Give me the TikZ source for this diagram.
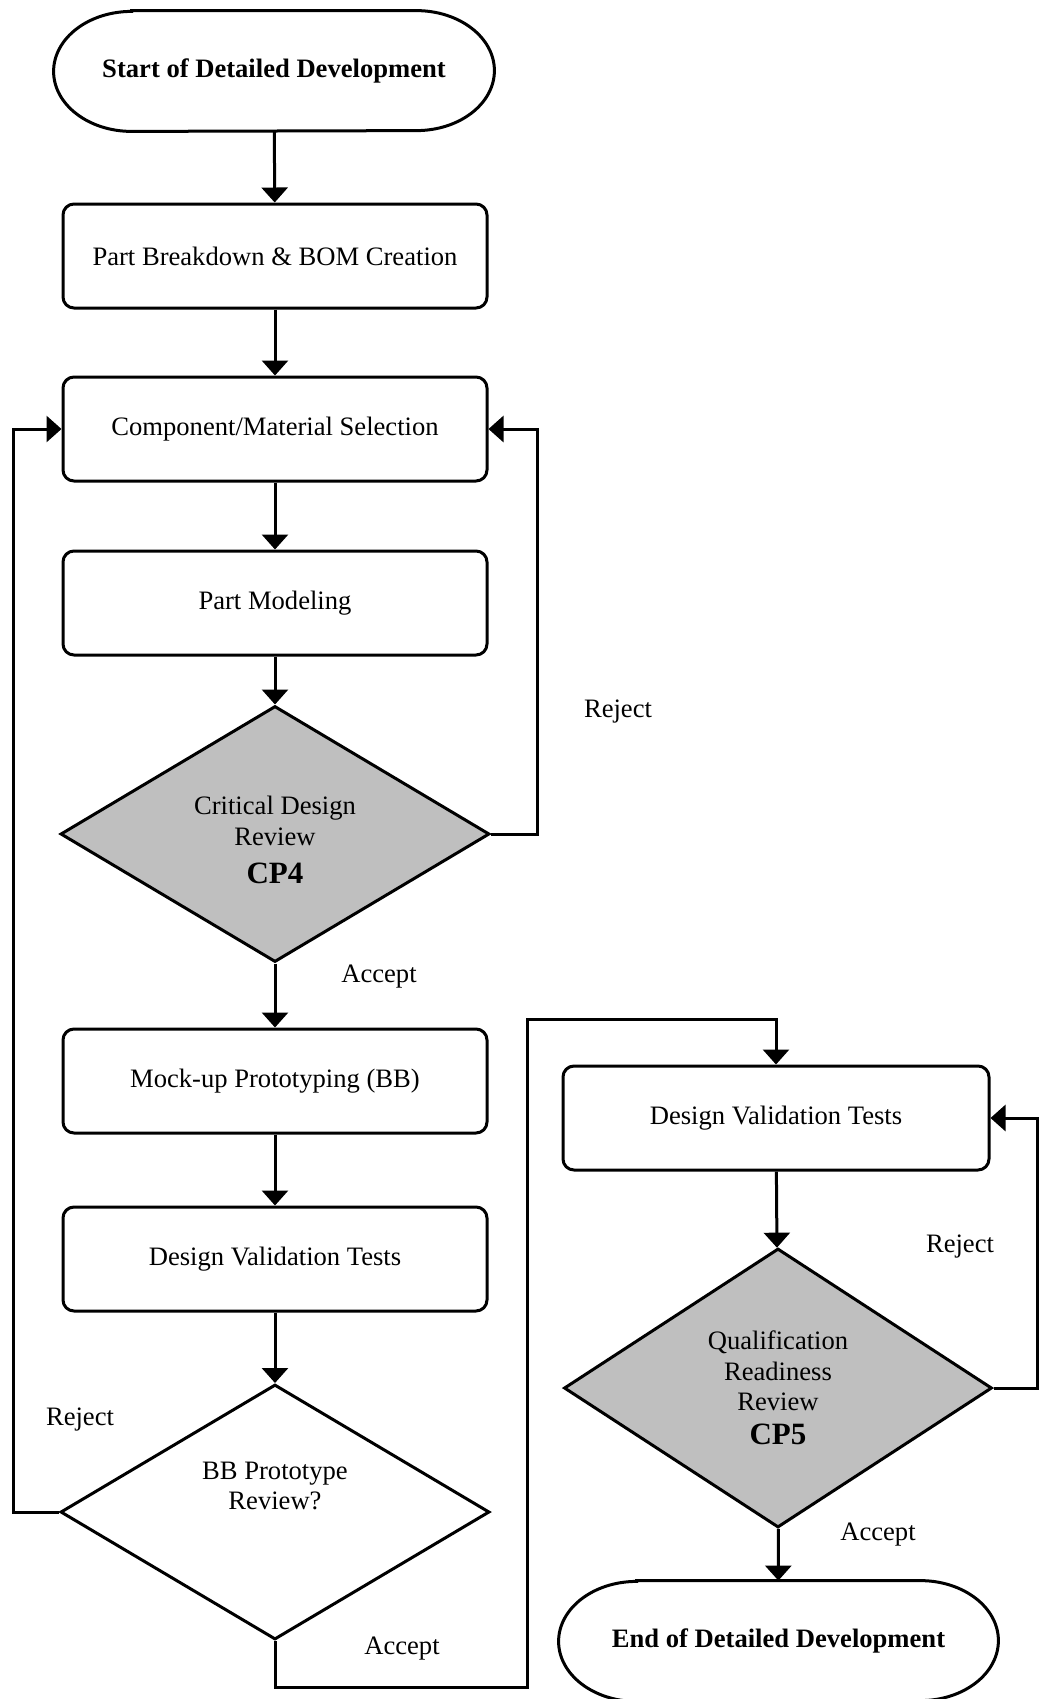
\documentclass[tikz,border=0pt]{standalone}
\usepackage{fontspec}
\setmainfont{Liberation Serif}
\usetikzlibrary{arrows.meta,shapes.geometric}
% outline of a terminal (stadium with elliptic ends) around a named node
\newcommand\termoutline[1]{%
  \draw[line width=1.5pt] ([xshift=39pt]#1.north west) -- ([xshift=-39pt]#1.north east)
    arc[start angle=90,end angle=-90,x radius=39pt,y radius=30pt]
    -- ([xshift=39pt]#1.south west)
    arc[start angle=270,end angle=90,x radius=39pt,y radius=30pt] -- cycle;}
\begin{document}
\begin{tikzpicture}[x=0.5pt,y=-0.5pt,
  every node/.style={font=\fontsize{13.3}{15.2}\selectfont, inner sep=0pt},
  terminal/.style={minimum width=220pt, minimum height=60pt, font=\fontsize{13.3}{15.2}\selectfont\bfseries},
  procbox/.style={draw, rectangle, rounded corners=5.5pt, line width=1.5pt,
    minimum width=212pt, minimum height=52pt, align=center},
  decision/.style={draw, diamond, line width=1.5pt, align=center, fill=#1},
  decision/.default=white,
  flow/.style={line width=1.5pt, -{Triangle[width=13pt,length=7.5pt]}},
  plain/.style={line width=1.5pt}
]
\useasboundingbox (0,0) rectangle (1040,1699);

% left column
\node[terminal] (start) at (274,71) {Start of Detailed Development};
\termoutline{start}
\node[procbox] (pb) at (275,256) {Part Breakdown \& BOM Creation};
\node[procbox] (comp) at (275,429) {Component/Material Selection};
\node[procbox] (pm) at (275,603) {Part Modeling};
\node[decision=black!25, minimum width=214.5pt, minimum height=128pt] (cp4) at (275,834) {};
\node[align=center] (cp4text) at (275,840)
  {Critical Design\\Review\\[4pt]{\fontsize{15.5}{17}\selectfont\bfseries CP4}};
\node[procbox] (mock) at (275,1081) {Mock-up Prototyping (BB)};
\node[procbox] (dvt1) at (275,1259) {Design Validation Tests};
\node[decision, minimum width=214.5pt, minimum height=127.5pt] (bb) at (275,1512) {};
\node[align=center] (bbtext) at (275,1486) {BB Prototype\\Review?};

% right column
\node[procbox, minimum width=213pt] (dvt2) at (776,1118) {Design Validation Tests};
\node[decision=black!25, minimum width=214pt, minimum height=139.5pt] (cp5) at (778,1388)
  {Qualification\\Readiness\\Review\\[2pt]{\fontsize{15.5}{17}\selectfont\bfseries CP5}};
\node[terminal, minimum width=219.5pt] (end) at (778.5,1641) {End of Detailed Development};
\termoutline{end}

% main flow
\draw[flow] (start) -- (pb);
\draw[flow] (pb) -- (comp);
\draw[flow] (comp) -- (pm);
\draw[flow] (pm) -- (cp4);
\draw[flow] (cp4) -- (mock);
\draw[flow] (mock) -- (dvt1);
\draw[flow] (dvt1) -- (bb);
\draw[flow] (dvt2) -- (cp5);
\draw[flow] (cp5) -- (end);

% feedback loops
\coordinate (lrail) at (13,1512);
\draw[flow] (bb.west) -- (lrail) |- (comp.west);
\coordinate (rrail) at (537,834);
\draw[flow] (cp4.east) -- (rrail) |- (comp.east);
\coordinate (rrail2) at (1037,1388);
\draw[flow] (cp5.east) -- (rrail2) |- (dvt2.east);

% accept path to the right column
\coordinate (acc1) at (275,1687);
\coordinate (acc2) at (527,1019);
\draw[flow] (bb.south) -- (acc1) -| (acc2) -| (dvt2.north);

% branch labels
\node (rej1) at (618,712) {Reject};
\node (acc4) at (379,977) {Accept};
\node (rej2) at (80,1420) {Reject};
\node (accbb) at (402,1649) {Accept};
\node (rej3) at (960,1247) {Reject};
\node (acc5) at (878,1535) {Accept};
\end{tikzpicture}
\end{document}
